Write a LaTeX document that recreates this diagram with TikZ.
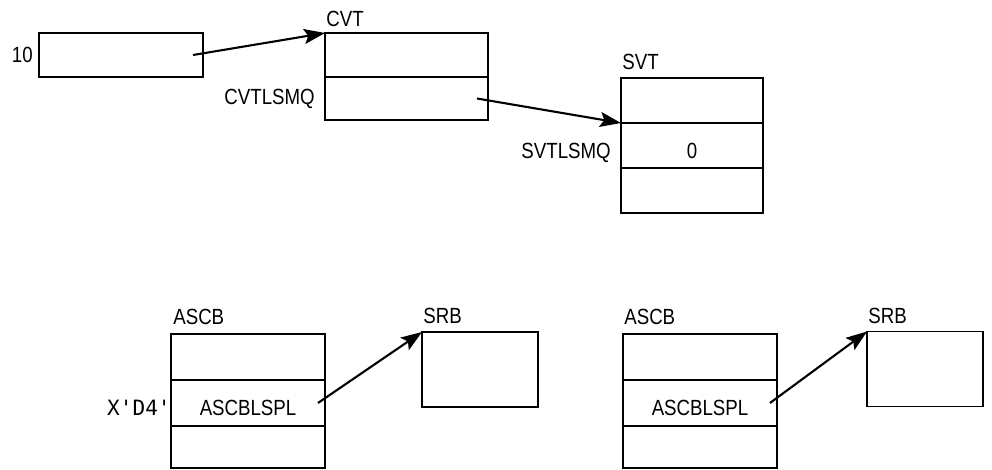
\documentclass[tikz,border=0pt]{standalone}
\usepackage{fontspec}
\setmainfont[FakeStretch=0.85]{Liberation Sans}
\newfontfamily\codefont{DejaVu Sans Mono}
\usetikzlibrary{arrows.meta,positioning}

\begin{document}
\begin{tikzpicture}[x=0.02cm,y=-0.02cm,
    font=\fontsize{12.5}{14}\selectfont,
    cell/.style={draw,line width=0.9pt,inner sep=0pt,outer sep=0pt},
    low/.style={text height=0.52cm,text depth=0pt},
    tag/.style={inner sep=0pt},
    title/.style={inner sep=0pt,anchor=base west},
    ptr/.style={line width=1.2pt,-{Stealth[length=0.42cm,width=0.3cm,inset=0.08cm]}}]
  \useasboundingbox (0,0) rectangle (992,470);

  % pointer word and CVT
  \node[cell,minimum width=3.28cm,minimum height=0.88cm] (val) at (121,55) {};
  \node[tag,left=0.12cm of val] (ten) {10};
  \node[cell,minimum width=3.26cm,minimum height=0.88cm] (cvt1) at (406.5,55) {};
  \node[cell,minimum width=3.26cm,minimum height=0.86cm,below=0pt of cvt1] (cvt2) {};
  \node[title] (cvtname) at ([xshift=0.02cm,yshift=0.125cm]cvt1.north west) {CVT};
  \node[tag,left=0.2cm of cvt2] (cvtlsmq) {CVTLSMQ};

  % SVT
  \node[cell,minimum width=2.84cm,minimum height=0.9cm] (svt1) at (692,100.5) {};
  \node[cell,low,minimum width=2.84cm,minimum height=0.9cm,below=0pt of svt1] (svt2) {0};
  \node[cell,minimum width=2.84cm,minimum height=0.9cm,below=0pt of svt2] (svt3) {};
  \node[title] (svtname) at ([xshift=0.02cm,yshift=0.165cm]svt1.north west) {SVT};
  \node[tag,low,left=0.2cm of svt2] (svtlsmq) {SVTLSMQ};

  \draw[ptr] ([xshift=-0.2cm]val.east) -- (cvt1.north west);
  \draw[ptr] ([xshift=-0.22cm]cvt2.east) -- (svt2.north west);

  % left ASCB and SRB
  \node[cell,minimum width=3.08cm,minimum height=0.92cm] (ascbL1) at (248,357) {};
  \node[cell,low,minimum width=3.08cm,minimum height=0.92cm,below=0pt of ascbL1] (ascbL2) {ASCBLSPL};
  \node[cell,minimum width=3.08cm,minimum height=0.84cm,below=0pt of ascbL2] (ascbL3) {};
  \node[title] (ascbLname) at ([xshift=0.04cm,yshift=0.19cm]ascbL1.north west) {ASCB};
  \node[tag,low,left=0pt of ascbL2,font={\codefont\fontsize{12}{14}\selectfont}] (xd4) {X'D4'};
  \node[cell,minimum width=2.32cm,minimum height=1.5cm] (srbL) at (480,369.5) {};
  \node[title] (srbLname) at ([xshift=0.02cm,yshift=0.165cm]srbL.north west) {SRB};
  \draw[ptr] ([xshift=-0.14cm]ascbL2.east) -- (srbL.north west);

  % right ASCB and SRB
  \node[cell,minimum width=3.08cm,minimum height=0.92cm] (ascbR1) at (700,357) {};
  \node[cell,low,minimum width=3.08cm,minimum height=0.92cm,below=0pt of ascbR1] (ascbR2) {ASCBLSPL};
  \node[cell,minimum width=3.08cm,minimum height=0.84cm,below=0pt of ascbR2] (ascbR3) {};
  \node[title] (ascbRname) at ([xshift=0.02cm,yshift=0.19cm]ascbR1.north west) {ASCB};
  \node[cell,minimum width=2.32cm,minimum height=1.5cm] (srbR) at (925,369) {};
  \node[title] (srbRname) at ([xshift=0.02cm,yshift=0.165cm]srbR.north west) {SRB};
  \draw[ptr] ([xshift=-0.14cm]ascbR2.east) -- (srbR.north west);
\end{tikzpicture}
\end{document}
